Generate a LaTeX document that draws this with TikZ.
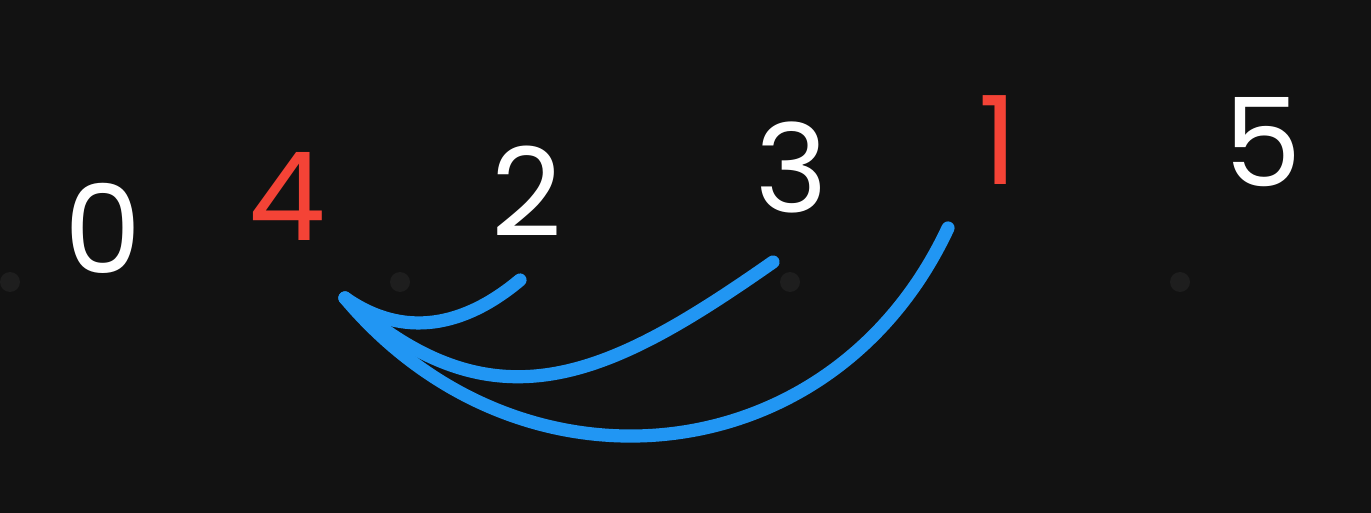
\documentclass[tikz,border=0pt]{standalone}
\usepackage{fontspec}
\setmainfont{Poppins}
\definecolor{bg}{HTML}{121212}
\definecolor{griddot}{HTML}{1E1E1E}
\definecolor{pen}{HTML}{F44336}
\definecolor{arc}{HTML}{2196F3}
\begin{document}
\begin{tikzpicture}[x=0.02cm, y=-0.02cm, main/.style = {text=white, inner sep=0pt, font=\fontsize{70}{70}\selectfont}, hit/.style = {main, text=pen}, link/.style = {draw=arc, line width=7.5pt, line cap=round}]
    \fill[bg] (0,0) rectangle (1371,513);
    \useasboundingbox (0,0) rectangle (1371,513);
    \foreach \x in {10,400,790,1180} \fill[griddot] (\x,282) circle (10);
    \node[main] (0) at (103,228) {0};
    \node[hit] (4) at (287,196) {4};
    \node[main] (2) at (527,191) {2};
    \node[main] (3) at (792,167) {3};
    \node[hit] (1) at (998,140) {1};
    \node[main] (5) at (1263,142) {5};
    \coordinate (h) at (345,298);
    \coordinate (e2) at (520,280);
    \coordinate (e3) at (773,262);
    \coordinate (e1) at (948,228);
    \draw[link] (e2) to [out=-140,in=-35,looseness=1.05] (h);
    \draw[link] (e3) to [out=-145,in=-42,looseness=1.2] (h);
    \draw[link] (e1) to [out=-115,in=-50,looseness=1.15] (h);
\end{tikzpicture}
\end{document}
